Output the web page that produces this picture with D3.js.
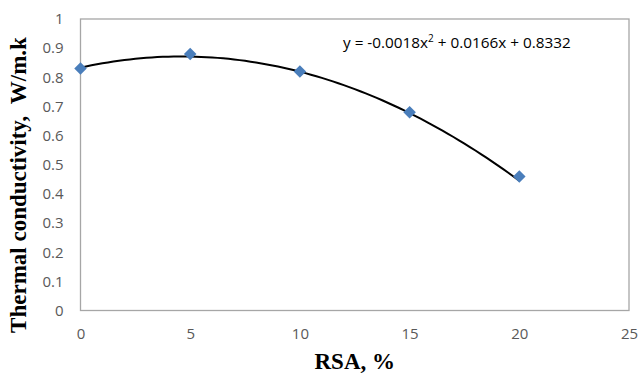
<!DOCTYPE html>
<html>
<head>
<meta charset="utf-8">
<script src="https://cdn.jsdelivr.net/npm/d3@7"></script>
<style>
  html, body { margin: 0; padding: 0; background: #fff; }
  svg { display: block; }
</style>
</head>
<body>
<svg id="chart" width="639" height="373"></svg>
<script>
const rsa = [0, 5, 10, 15, 20];
const conductivity = [0.83, 0.88, 0.82, 0.68, 0.46];
const xTicks = [0, 5, 10, 15, 20, 25];
const yTicks = [0, 0.1, 0.2, 0.3, 0.4, 0.5, 0.6, 0.7, 0.8, 0.9, 1];
const fitCoef = [-0.0018, 0.0166, 0.8332];
const xTitle = "RSA, %";
const yTitle = "Thermal conductivity,\u00a0\u00a0W/m.k";

const svg = d3.select("#chart");
const W = 639, H = 373;
const m = { left: 80.5, right: 10, top: 19, bottom: 62.5 };
const x = d3.scaleLinear().domain([0, 25]).range([m.left, W - m.right]);
const y = d3.scaleLinear().domain([0, 1]).range([H - m.bottom, m.top]);

svg.append("rect").attr("width", W).attr("height", H).attr("fill", "#fff");

// plot area border
svg.append("rect")
  .attr("x", x(0)).attr("y", y(1))
  .attr("width", x(25) - x(0)).attr("height", y(0) - y(1))
  .attr("fill", "none").attr("stroke", "#a6a6a6").attr("stroke-width", 1.3);

const tickFont = "'Open Sans', 'Noto Sans', sans-serif";

// x axis labels
const xAxis = d3.axisBottom(x).tickValues(xTicks).tickSize(0).tickPadding(18).tickFormat(d3.format("d"));
const gx = svg.append("g").attr("transform", `translate(0,${y(0)})`).call(xAxis);
gx.select(".domain").remove();
gx.selectAll("text").attr("font-family", tickFont).attr("font-size", 15).attr("fill", "#595959");

// y axis labels
const yAxis = d3.axisLeft(y).tickValues(yTicks).tickSize(0).tickPadding(17).tickFormat(d => d === 0 || d === 1 ? d3.format("d")(d) : d3.format(".1f")(d));
const gy = svg.append("g").attr("transform", `translate(${x(0)},0)`).call(yAxis);
gy.select(".domain").remove();
gy.selectAll("text").attr("font-family", tickFont).attr("font-size", 15).attr("fill", "#595959");

// fitted curve
const fitX = d3.range(0, 20.001, 0.25);
const fitY = fitX.map(v => fitCoef[0] * v * v + fitCoef[1] * v + fitCoef[2]);
const line = d3.line().x((d, i) => x(fitX[i])).y((d, i) => y(fitY[i])).curve(d3.curveLinear);
svg.append("path").datum(fitX).attr("d", line)
  .attr("fill", "none").attr("stroke", "#000").attr("stroke-width", 2);

// markers
const diamond = d3.symbol().type(d3.symbolDiamond2).size(100);
svg.selectAll("path.pt").data(rsa).enter().append("path")
  .attr("class", "pt")
  .attr("d", diamond)
  .attr("transform", (d, i) => `translate(${x(d)},${y(conductivity[i])})`)
  .attr("fill", "#4a7ebb");

// equation
const eq = svg.append("text").attr("x", 343).attr("y", 48)
  .attr("font-family", tickFont).attr("font-size", 15.3).attr("fill", "#000");
eq.append("tspan").text("y = -0.0018x");
eq.append("tspan").attr("font-size", 10).attr("dy", -6).text("2");
eq.append("tspan").attr("dy", 6).text(" + 0.0166x + 0.8332");

// axis titles
svg.append("text").attr("x", (x(0) + x(25)) / 2).attr("y", 369)
  .attr("text-anchor", "middle")
  .attr("font-family", "'Liberation Serif', 'Times New Roman', serif")
  .attr("font-weight", "bold").attr("font-size", 23).attr("fill", "#000")
  .text(xTitle);

svg.append("text")
  .attr("transform", `translate(26,185) rotate(-90)`)
  .attr("text-anchor", "middle")
  .attr("font-family", "'Liberation Serif', 'Times New Roman', serif")
  .attr("font-weight", "bold").attr("font-size", 23).attr("fill", "#000")
  .text(yTitle);
</script>
</body>
</html>
